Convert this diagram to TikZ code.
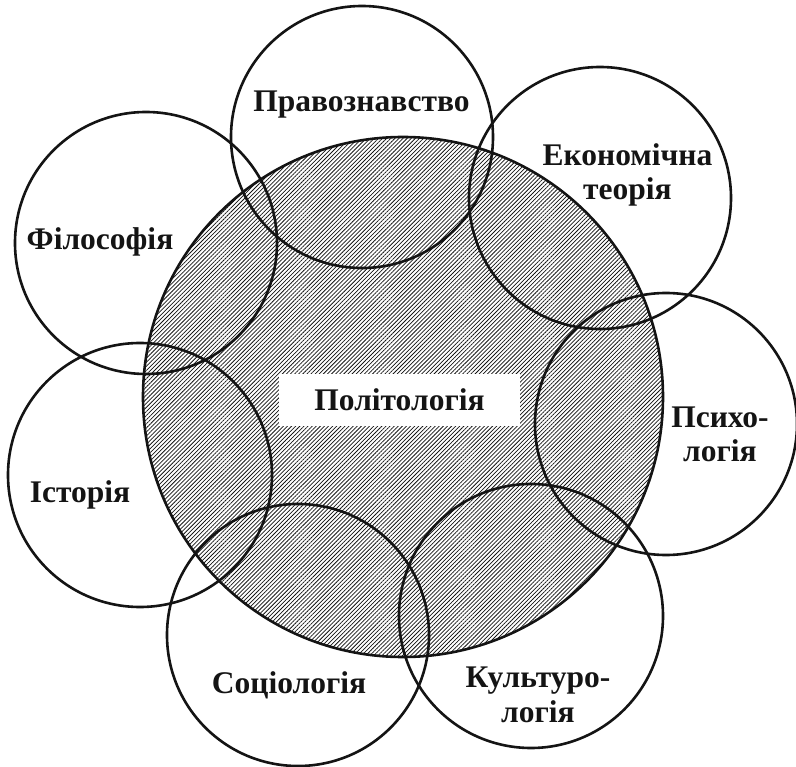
\documentclass[tikz,border=0pt]{standalone}
\usepackage{fontspec}
\setmainfont{Liberation Serif}
\usetikzlibrary{patterns.meta}

\definecolor{Ink}{HTML}{141414}
\tikzstyle{field}=[circle, draw=Ink, line width=2.6pt, minimum size=262pt, inner sep=0pt]
\tikzstyle{core-field}=[field, minimum size=520pt, pattern={Lines[angle=45, distance=2.9pt, line width=0.75pt]}, pattern color=Ink]
\tikzstyle{field-name}=[anchor=base, align=center, text=Ink, inner sep=0pt, font=\bfseries\fontsize{31.5}{34.5}\selectfont]

\begin{document}
\begin{tikzpicture}[x=1pt, y=-1pt]
      \useasboundingbox (0,0) rectangle (796,767);
      \node (field:pol) at (403,397) [core-field] {};
      \node (field:law) at (362,137) [field] {};
      \node (field:phil) at (146,243) [field] {};
      \node (field:econ) at (600,198) [field] {};
      \node (field:psy) at (666,424) [field] {};
      \node (field:cult) at (531,616) [field, minimum size=264pt] {};
      \node (field:soc) at (298,635) [field] {};
      \node (field:hist) at (140,475) [field, minimum size=264pt] {};

      \node (name:pol) at (399.5,400) [fill=white, minimum width=241pt, minimum height=52pt, text=Ink, font=\bfseries\fontsize{31.5}{34.5}\selectfont] {Політологія};
      \node (name:law) at (361.5,112) [field-name] {Правознавство};
      \node (name:phil) at (100,250) [field-name] {Філософія};
      \node (name:econ) at (627.5,200) [field-name] {Економічна\\теорія};
      \node (name:psy) at (720,462) [field-name] {Психо-\\логія};
      \node (name:cult) at (538,722) [field-name] {Культуро-\\логія};
      \node (name:soc) at (289,693) [field-name] {Соціологія};
      \node (name:hist) at (80,502) [field-name] {Історія};
    \end{tikzpicture}
\end{document}
